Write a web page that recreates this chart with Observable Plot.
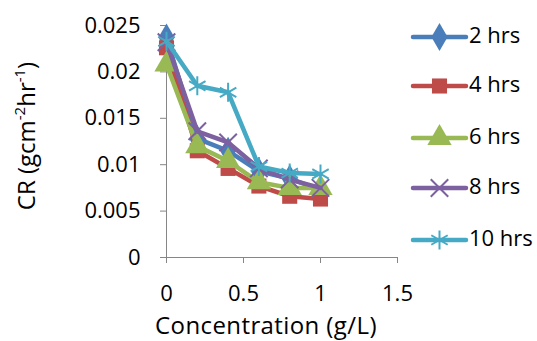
<!DOCTYPE html>
<html><head><meta charset="utf-8">
<script src="https://cdn.jsdelivr.net/npm/d3@7"></script>
<script src="https://cdn.jsdelivr.net/npm/@observablehq/plot@0.6"></script>
<style>
body{margin:0;background:#fff}
#chart{position:relative;width:537px;height:341px;overflow:hidden}
</style>
</head><body><div id="chart"></div>
<script>
const concentration = [0, 0.2, 0.4, 0.6, 0.8, 1.0];
const cr2hrs  = [0.0237, 0.0128, 0.0115, 0.0093, 0.0085, 0.0073];
const cr4hrs  = [0.0226, 0.0115, 0.0096, 0.0077, 0.0066, 0.0063];
const cr6hrs  = [0.0208, 0.0120, 0.0104, 0.0081, 0.0075, 0.0075];
const cr8hrs  = [0.0232, 0.0136, 0.0124, 0.0096, 0.0084, 0.0075];
const cr10hrs = [0.0233, 0.0185, 0.0178, 0.0098, 0.0091, 0.0090];
const seriesNames = ["2 hrs", "4 hrs", "6 hrs", "8 hrs", "10 hrs"];
const seriesValues = [cr2hrs, cr4hrs, cr6hrs, cr8hrs, cr10hrs];
const seriesColors = ["#4A7EBB", "#BE4B48", "#98B954", "#7D60A0", "#46AAC5"];
const seriesSymbols = ["diamond", "square", "triangle", "times", "asterisk"];
const yTicks = [0, 0.005, 0.01, 0.015, 0.02, 0.025];
const yTickLabels = ["0", "0.005", "0.01", "0.015", "0.02", "0.025"];
const xTicks = [0, 0.5, 1, 1.5];
const xTickLabels = ["0", "0.5", "1", "1.5"];
const xTitle = "Concentration (g/L)";

const FONT = "'Open Sans', Lato, sans-serif";
const AXIS = "#868686";
const symR = [8.5, 8.5, 9, 8, 9];

const rows = seriesNames.map((name, i) =>
  concentration.map((c, j) => ({series: name, x: c, y: seriesValues[i][j]})));

const marks = [
  Plot.ruleX([0], {stroke: AXIS, strokeWidth: 1}),
  Plot.ruleY([0], {stroke: AXIS, strokeWidth: 1}),
  Plot.axisY({ticks: yTicks, tickFormat: d => yTickLabels[yTicks.indexOf(d)], tickSize: 6, tickPadding: 20, stroke: AXIS, fontSize: 22, label: null, fill: "#000"}),
  Plot.axisX({ticks: xTicks, tickFormat: d => xTickLabels[xTicks.indexOf(d)], tickSize: 6, tickPadding: 22, stroke: AXIS, fontSize: 22, label: null, fill: "#000"})
];
rows.forEach((data, i) => {
  marks.push(Plot.line(data, {x: "x", y: "y", stroke: seriesColors[i], strokeWidth: 4.5, strokeLinejoin: "round", strokeLinecap: "round"}));
  const strokeSym = seriesSymbols[i] === "times" || seriesSymbols[i] === "asterisk";
  marks.push(Plot.dot(data, {x: "x", y: "y", symbol: seriesSymbols[i], r: symR[i],
    fill: strokeSym ? "none" : seriesColors[i], stroke: strokeSym ? seriesColors[i] : "none", strokeWidth: strokeSym ? 2 : 0}));
});

const svg = Plot.plot({
  width: 537, height: 341,
  marginLeft: 166, marginRight: 140, marginTop: 25, marginBottom: 84,
  style: {fontFamily: FONT, background: "#fff", color: "#000"},
  x: {domain: [0, 1.5]},
  y: {domain: [0, 0.025]},
  marks
});
document.getElementById("chart").appendChild(svg);

const s = d3.select(svg);
// x title
s.append("text").attr("x", 266).attr("y", 334).attr("text-anchor", "middle")
  .style("font-family", FONT).style("font-size", "24px").style("letter-spacing", "0.4px").text(xTitle);
// y title with superscripts
const yt = s.append("text").attr("transform", "translate(35,136) rotate(-90)").attr("text-anchor", "middle")
  .style("font-family", FONT).style("font-size", "24px");
yt.append("tspan").text("CR (gcm");
yt.append("tspan").attr("baseline-shift", "super").style("font-size", "15px").text("-2");
yt.append("tspan").text("hr");
yt.append("tspan").attr("baseline-shift", "super").style("font-size", "15px").text("-1");
yt.append("tspan").text(")");

// legend
const legY = [37, 86, 138, 188, 240];
seriesNames.forEach((name, i) => {
  const g = s.append("g").attr("transform", `translate(0,${legY[i]})`);
  g.append("line").attr("x1", 413).attr("x2", 466).attr("y1", 0).attr("y2", 0)
    .attr("stroke", seriesColors[i]).attr("stroke-width", 4.5).attr("stroke-linecap", "round");
  const symMap = {diamond: d3.symbolDiamond, square: d3.symbolSquare, triangle: d3.symbolTriangle, times: d3.symbolTimes, asterisk: d3.symbolAsterisk};
  const strokeSym = seriesSymbols[i] === "times" || seriesSymbols[i] === "asterisk";
  g.append("path").attr("transform", "translate(439.5,0)")
    .attr("d", d3.symbol(symMap[seriesSymbols[i]], symR[i] * symR[i] * Math.PI)())
    .attr("fill", strokeSym ? "none" : seriesColors[i]).attr("stroke", strokeSym ? seriesColors[i] : "none").attr("stroke-width", 2);
  g.append("text").attr("x", 469).attr("y", 0).attr("text-anchor", "start").attr("dominant-baseline", "middle")
    .style("font-family", FONT).style("font-size", "22px").text(name);
});
</script>
</body></html>
